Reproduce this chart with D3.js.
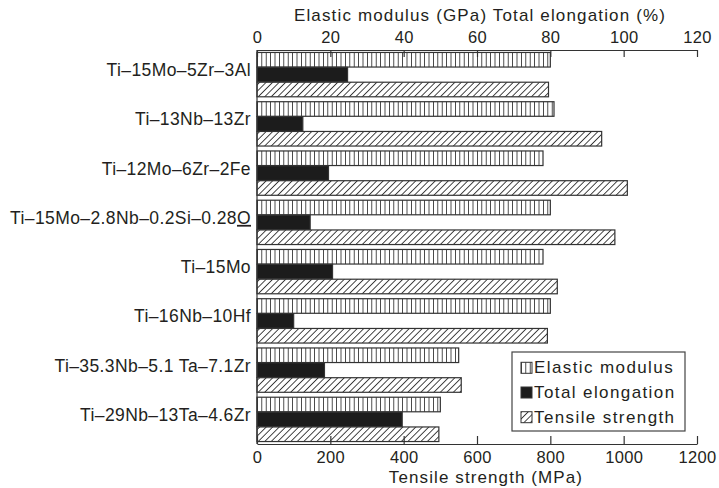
<!DOCTYPE html>
<html><head><meta charset="utf-8">
<script src="https://cdn.jsdelivr.net/npm/d3@7"></script>
<style>
html,body{margin:0;padding:0;background:#fff;}
svg{display:block;font-family:"Liberation Sans",Arial,sans-serif;}
</style></head>
<body><svg id="c" width="719" height="488"></svg>
<script>
const categories = ["Ti–15Mo–5Zr–3Al","Ti–13Nb–13Zr","Ti–12Mo–6Zr–2Fe","Ti–15Mo–2.8Nb–0.2Si–0.28O","Ti–15Mo","Ti–16Nb–10Hf","Ti–35.3Nb–5.1 Ta–7.1Zr","Ti–29Nb–13Ta–4.6Zr"];
const elasticModulus = [80, 81, 78, 80, 78, 80, 55, 50];
const totalElongation = [24.7, 12.5, 19.5, 14.5, 20.6, 10, 18.4, 39.6];
const tensileStrength = [795, 940, 1010, 976, 819, 792, 557, 496];
const topTicks = [0, 20, 40, 60, 80, 100, 120];
const bottomTicks = [0, 200, 400, 600, 800, 1000, 1200];
const seriesNames = ["Elastic modulus", "Total elongation", "Tensile strength"];

const svg = d3.select("#c");
const ink = "#231f20";
const defs = svg.append("defs");
const pv = defs.append("pattern").attr("id","vert").attr("patternUnits","userSpaceOnUse")
  .attr("width",4.4).attr("height",10);
pv.append("rect").attr("width",4.4).attr("height",10).attr("fill","#fff");
pv.append("line").attr("x1",2.2).attr("x2",2.2).attr("y1",0).attr("y2",10).attr("stroke","#333").attr("stroke-width",0.9);
const ph = defs.append("pattern").attr("id","hatch").attr("patternUnits","userSpaceOnUse")
  .attr("width",4.6).attr("height",4.6).attr("patternTransform","rotate(45)");
ph.append("rect").attr("width",4.6).attr("height",4.6).attr("fill","#fff");
ph.append("line").attr("x1",2.3).attr("x2",2.3).attr("y1",0).attr("y2",4.6).attr("stroke","#333").attr("stroke-width",0.9);

const x = d3.scaleLinear().domain([0,120]).range([257,697]);
const xT = d3.scaleLinear().domain([0,1200]).range([257,697]);
const y = d3.scaleBand().domain(categories).range([50,444]).paddingInner(0.1).paddingOuter(0.05);
const yIn = d3.scaleBand().domain(seriesNames).range([0,y.bandwidth()]).paddingInner(0.02);

const rows = categories.map((c,i)=>({c, vals:[
  {s:seriesNames[0], w:x(elasticModulus[i])-x(0), fill:"url(#vert)"},
  {s:seriesNames[1], w:x(totalElongation[i])-x(0), fill:"#1c1c1c"},
  {s:seriesNames[2], w:xT(tensileStrength[i])-xT(0), fill:"url(#hatch)"}
]}));

const g = svg.append("g");
const grp = g.selectAll("g.grp").data(rows).join("g").attr("transform",d=>`translate(0,${y(d.c)})`);
grp.selectAll("rect").data(d=>d.vals).join("rect")
  .attr("x",x(0)).attr("y",d=>yIn(d.s)).attr("width",d=>d.w).attr("height",yIn.bandwidth())
  .attr("fill",d=>d.fill).attr("stroke","#333").attr("stroke-width",1.2);

// category labels
const lab = svg.append("g").selectAll("text").data(categories).join("text")
  .attr("x",251).attr("y",d=>y(d)+y.bandwidth()/2+1.5)
  .attr("text-anchor","end").attr("font-size",17.5).attr("letter-spacing",0.4).attr("fill",ink);
lab.each(function(d){
  const t = d3.select(this);
  if (d.endsWith("0.28O")) {
    t.append("tspan").text(d.slice(0,-1));
    t.append("tspan").attr("text-decoration","underline").text("O");
  } else t.text(d);
});

// left line
svg.append("line").attr("x1",x(0)).attr("x2",x(0)).attr("y1",50).attr("y2",444).attr("stroke","#333").attr("stroke-width",1.2);

// top axis
const ta = svg.append("g").attr("transform","translate(0,50)")
  .call(d3.axisTop(x).tickValues(topTicks).tickFormat(d3.format("d")).tickSize(-7).tickSizeOuter(0).tickPadding(7));
// bottom axis
const ba = svg.append("g").attr("transform","translate(0,444)")
  .call(d3.axisBottom(xT).tickValues(bottomTicks).tickFormat(d3.format("d")).tickSize(-8).tickSizeOuter(0).tickPadding(7));
[ta,ba].forEach(a=>{
  a.select(".domain").attr("stroke","#333").attr("stroke-width",1.2);
  a.selectAll(".tick line").attr("stroke","#333").attr("stroke-width",1.2);
  a.selectAll(".tick text").attr("font-size",16.5).attr("letter-spacing",0.3).attr("fill",ink)
    .attr("font-family","Liberation Sans, Arial, sans-serif");
});

svg.append("text").attr("x",480).attr("y",21).attr("text-anchor","middle")
  .attr("font-size",17).attr("letter-spacing",1.15).attr("fill",ink)
  .text("Elastic modulus (GPa) Total elongation (%)");
svg.append("text").attr("x",486).attr("y",483).attr("text-anchor","middle")
  .attr("font-size",17).attr("letter-spacing",1.1).attr("fill",ink)
  .text("Tensile strength (MPa)");

// legend
const lg = svg.append("g");
lg.append("rect").attr("x",512).attr("y",352).attr("width",173).attr("height",79)
  .attr("fill","#fff").attr("stroke","#444").attr("stroke-width",1.2);
const legFills = ["url(#vert)","#1c1c1c","url(#hatch)"];
seriesNames.forEach((s,i)=>{
  const by = 373.3 + i*24.7;
  lg.append("rect").attr("x",521).attr("y",by-11).attr("width",11).attr("height",11)
    .attr("fill",legFills[i]).attr("stroke","#333").attr("stroke-width",1);
  lg.append("text").attr("x",534).attr("y",by).attr("font-size",17).attr("letter-spacing",1.4)
    .attr("fill",ink).text(s);
});
</script></body></html>
